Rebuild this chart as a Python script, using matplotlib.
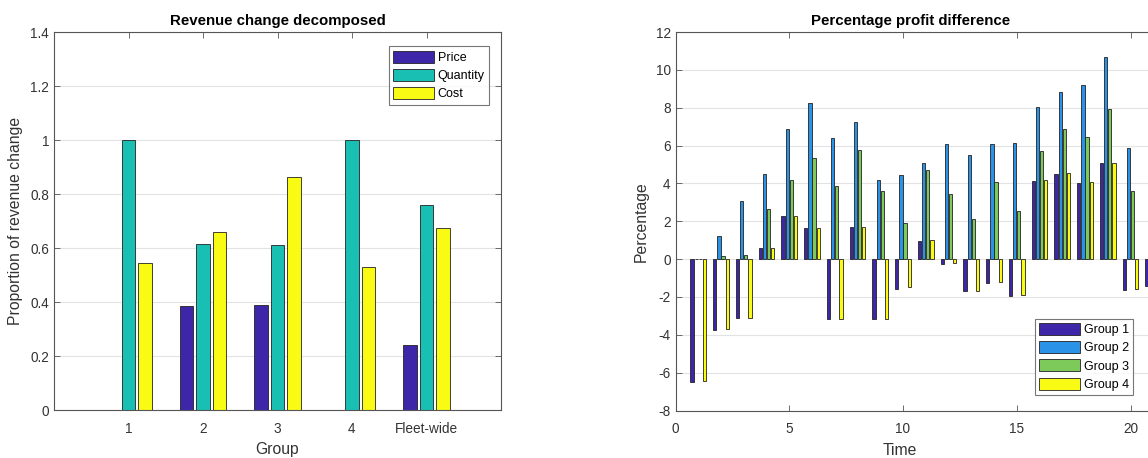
import numpy as np
import matplotlib.pyplot as plt

plt.rcParams['font.family'] = ['Liberation Sans', 'DejaVu Sans']
plt.rcParams['axes.unicode_minus'] = False

# revenue decomposition per group
groups = ['1', '2', '3', '4', 'Fleet-wide']
price = [0.0, 0.385, 0.39, 0.0, 0.24]
quantity = [1.0, 0.615, 0.61, 1.0, 0.76]
cost = [0.545, 0.661, 0.862, 0.528, 0.674]

# percentage profit difference over time
time = np.arange(1, 22)
group1 = [-6.5, -3.77, -3.1, 0.6, 2.27, 1.62, -3.18, 1.67, -3.18, -1.56, 0.98,
          -0.24, -1.67, -1.27, -1.94, 4.15, 4.52, 4.03, 5.07, -1.61, -1.43]
group2 = [0.0, 1.22, 3.05, 4.52, 6.87, 8.25, 6.42, 7.24, 4.18, 4.43, 5.1,
          6.09, 5.5, 6.09, 6.11, 8.05, 8.81, 9.21, 10.7, 5.86, 5.5]
group3 = [0.0, 0.15, 0.2, 2.65, 4.18, 5.33, 3.88, 5.78, 3.61, 1.91, 4.7,
          3.46, 2.12, 4.07, 2.56, 5.71, 6.87, 6.47, 7.92, 3.61, 3.3]
group4 = [-6.45, -3.7, -3.09, 0.6, 2.27, 1.62, -3.14, 1.67, -3.14, -1.5, 1.03,
          -0.2, -1.67, -1.22, -1.9, 4.18, 4.55, 4.06, 5.07, -1.56, -1.4]

axis_col = '#555555'
text_col = '#333333'
grid_col = '#e3e3e3'
label_fs = 11.3


def style_axes(ax):
    ax.set_axisbelow(True)
    ax.yaxis.grid(True, color=grid_col, linewidth=0.8)
    for sp in ax.spines.values():
        sp.set_color(axis_col)
        sp.set_linewidth(0.8)
    ax.tick_params(direction='in', length=4, width=0.6, color=axis_col,
                   labelcolor=text_col, labelsize=9.8,
                   top=True, right=True)
    ax.tick_params(axis='x', pad=8.5)


def add_legend(ax, **kw):
    leg = ax.legend(fontsize=9, frameon=True, fancybox=False, edgecolor=axis_col,
                    handlelength=3.3, handleheight=1.1, handletextpad=0.25,
                    labelspacing=0.4, borderpad=0.35, **kw)
    leg.get_frame().set_linewidth(0.8)
    return leg


fig = plt.figure(figsize=(11.48, 4.58), dpi=100)

# left panel: grouped bars, 3 series
ax1 = fig.add_axes([54 / 1148, 48 / 458, 447 / 1148, 378 / 458])
x = np.arange(1, len(groups) + 1)
slot = 3 / 4.5 / 3
w = slot * 0.8
ax1.bar(x - slot, price, w, color='#3e26a8', edgecolor='#222222', linewidth=0.6, label='Price')
ax1.bar(x, quantity, w, color='#19bfb2', edgecolor='#222222', linewidth=0.6, label='Quantity')
ax1.bar(x + slot, cost, w, color='#f9fb15', edgecolor='#222222', linewidth=0.6, label='Cost')
ax1.set_xlim(0, 6)
ax1.set_ylim(0, 1.4)
ax1.set_xticks(x)
ax1.set_xticklabels(groups)
ax1.set_yticks(np.arange(0, 1.41, 0.2))
ax1.set_yticklabels(['0', '0.2', '0.4', '0.6', '0.8', '1', '1.2', '1.4'])
style_axes(ax1)
ax1.set_title('Revenue change decomposed', fontsize=10.8, fontweight='bold', pad=5)
ax1.set_xlabel('Group', fontsize=label_fs, color=text_col)
ax1.xaxis.set_label_coords(0.5, -0.085)
ax1.set_ylabel('Proportion of revenue change', fontsize=label_fs, color=text_col, labelpad=5)
add_legend(ax1, loc='upper right', bbox_to_anchor=(0.973, 0.962), borderaxespad=0.0)

# right panel: grouped bars, 4 series; axes runs past the figure edge
ax2_w = 22 * 22.75
ax2 = fig.add_axes([675.5 / 1148, 47.5 / 458, ax2_w / 1148, 378.5 / 458])
slot = 4 / 5.5 / 4
w = slot * 0.8
cols = ['#3e26a8', '#2a93e8', '#7dca5a', '#f9fb15']
names = ['Group 1', 'Group 2', 'Group 3', 'Group 4']
for i, (vals, c, n) in enumerate(zip([group1, group2, group3, group4], cols, names)):
    ax2.bar(time + (i - 1.5) * slot, vals, w, color=c, edgecolor='#222222',
            linewidth=0.6, label=n)
ax2.set_xlim(0, 22)
ax2.set_ylim(-8, 12)
ax2.set_xticks([0, 5, 10, 15, 20])
ax2.set_yticks(np.arange(-8, 13, 2))
style_axes(ax2)
ax2.set_title('Percentage profit difference', fontsize=10.8, fontweight='bold',
              x=(911 - 675.5) / ax2_w, pad=5)
ax2.set_xlabel('Time', fontsize=label_fs, color=text_col)
ax2.xaxis.set_label_coords((900 - 675.5) / ax2_w, -0.085)
ax2.set_ylabel('Percentage', fontsize=label_fs, color=text_col, labelpad=5)
add_legend(ax2, loc='lower right', bbox_to_anchor=((1133 - 675.5) / ax2_w, 0.04),
           borderaxespad=0.0)

fig.savefig('out.png', dpi=100)
